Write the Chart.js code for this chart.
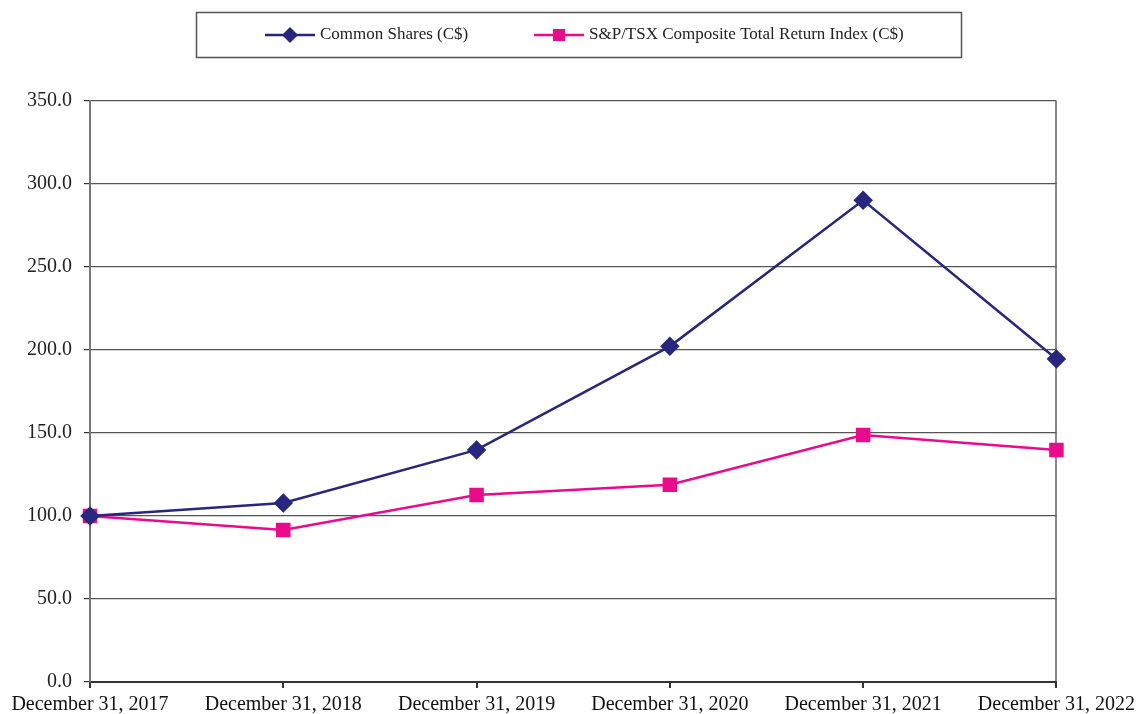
<!DOCTYPE html>
<html>
<head>
<meta charset="utf-8">
<script src="https://cdn.jsdelivr.net/npm/chart.js@4/dist/chart.umd.min.js"></script>
<style>
  html, body { margin: 0; padding: 0; background: #fff; }
  #wrap { width: 1140px; height: 714px; position: relative; }
</style>
</head>
<body>
<div id="wrap"><canvas id="c"></canvas></div>
<script>
/* ---------- data ---------- */
var categories = ['December 31, 2017', 'December 31, 2018', 'December 31, 2019',
                  'December 31, 2020', 'December 31, 2021', 'December 31, 2022'];
var commonShares = [100.0, 107.8, 139.8, 202.2, 290.2, 194.6];
var tsxIndex     = [100.0, 91.6, 112.6, 118.8, 148.8, 139.8];
var seriesNames  = ['Common Shares (C$)', 'S&P/TSX Composite Total Return Index (C$)'];
var yTicks       = [0, 50, 100, 150, 200, 250, 300, 350];

var NAVY = '#27277f';
var PINK = '#ea0a8c';
var SERIF = '"Liberation Serif", "Times New Roman", serif';

/* ---------- boxed legend with line + marker swatches ---------- */
var boxLegend = {
  id: 'boxLegend',
  afterDraw: function (chart) {
    var ctx = chart.ctx;
    ctx.save();
    ctx.strokeStyle = '#555';
    ctx.lineWidth = 1.5;
    ctx.strokeRect(196.5, 12.5, 765, 45);

    var items = [
      { x: 265, color: NAVY, shape: 'diamond', text: seriesNames[0] },
      { x: 534, color: PINK, shape: 'square',  text: seriesNames[1] }
    ];
    var y = 35;
    items.forEach(function (it) {
      ctx.strokeStyle = it.color;
      ctx.lineWidth = 2.5;
      ctx.beginPath();
      ctx.moveTo(it.x, y);
      ctx.lineTo(it.x + 50, y);
      ctx.stroke();
      ctx.fillStyle = it.color;
      var cx = it.x + 25;
      ctx.beginPath();
      if (it.shape === 'diamond') {
        ctx.moveTo(cx, y - 8); ctx.lineTo(cx + 8, y); ctx.lineTo(cx, y + 8); ctx.lineTo(cx - 8, y);
        ctx.closePath();
      } else {
        ctx.rect(cx - 6, y - 6, 12, 12);
      }
      ctx.fill();
      ctx.fillStyle = '#222';
      ctx.font = '17px ' + SERIF;
      ctx.textBaseline = 'middle';
      ctx.textAlign = 'left';
      ctx.fillText(it.text, it.x + 55, y);
    });
    ctx.restore();
  }
};

new Chart(document.getElementById('c'), {
  type: 'line',
  data: {
    labels: categories,
    datasets: [
      {
        label: seriesNames[0],
        data: commonShares,
        borderColor: NAVY,
        backgroundColor: NAVY,
        borderWidth: 2.5,
        pointStyle: 'rectRot',
        pointRadius: 8,
        pointHoverRadius: 8,
        tension: 0
      },
      {
        label: seriesNames[1],
        data: tsxIndex,
        borderColor: PINK,
        backgroundColor: PINK,
        borderWidth: 2.5,
        pointStyle: 'rect',
        pointRadius: 8.5,
        pointHoverRadius: 8.5,
        tension: 0
      }
    ]
  },
  options: {
    responsive: true,
    maintainAspectRatio: false,
    animation: false,
    layout: { padding: { top: 101, right: 82, left: 0, bottom: 0 } },
    plugins: {
      legend: { display: false },
      tooltip: { enabled: false }
    },
    scales: {
      x: {
        offset: false,
        grid: {
          drawOnChartArea: true,
          color: function (c) { return c.index === categories.length - 1 ? '#8a8a8a' : 'rgba(0,0,0,0)'; },
          lineWidth: 2,
          tickColor: '#333',
          tickLength: 6
        },
        border: { color: '#333', width: 2 },
        ticks: {
          color: '#111',
          font: { family: SERIF, size: 20 },
          padding: 5,
          maxRotation: 0,
          autoSkip: false
        },
        afterFit: function (s) { s.height = 32; }
      },
      y: {
        min: 0,
        max: 350,
        afterBuildTicks: function (s) { s.ticks = yTicks.map(function (v) { return { value: v }; }); },
        grid: { color: '#555', lineWidth: 1.2, tickColor: '#333', tickLength: 6 },
        border: { color: '#777', width: 2 },
        ticks: {
          color: '#222',
          font: { family: SERIF, size: 20 },
          padding: 12,
          callback: function (v) { return Number(v).toFixed(1); }
        },
        afterFit: function (s) { s.width = 90; }
      }
    }
  },
  plugins: [boxLegend]
});
</script>
</body>
</html>
